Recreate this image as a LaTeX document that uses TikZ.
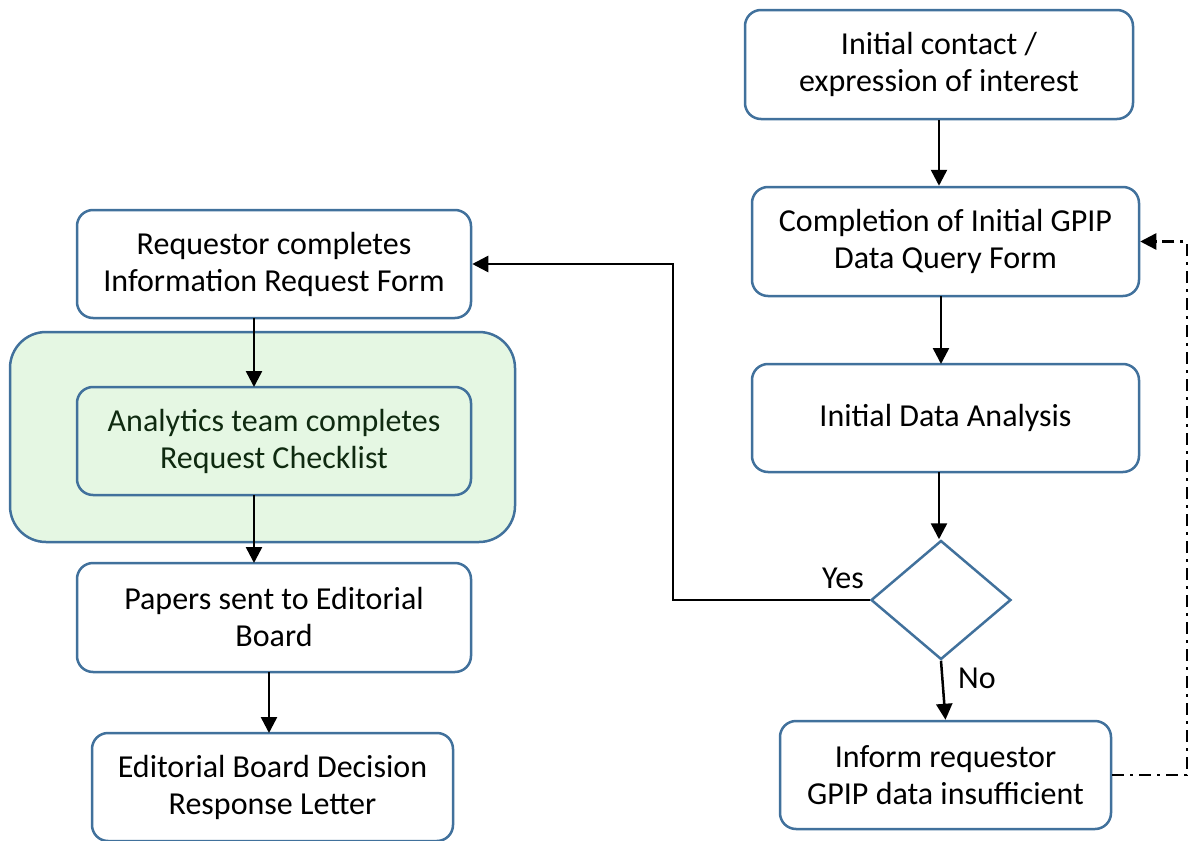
\documentclass[tikz,border=0pt]{standalone}
\usepackage{fontspec}
\setmainfont{Carlito}
\usetikzlibrary{shapes.geometric,arrows.meta}
\definecolor{bordc}{HTML}{41719C}
\definecolor{grfill}{HTML}{E5F7E3}
\definecolor{grtext}{HTML}{0F2A10}
\begin{document}
\begin{tikzpicture}[x=0.5pt,y=-0.5pt,
  box/.style={draw=bordc,line width=1.25pt,rounded corners=8pt,fill=white,align=center,
    font=\fontsize{16}{18.5}\selectfont,inner sep=0pt},
  dec/.style={draw=bordc,line width=1.25pt,diamond,aspect=1.18,minimum width=70pt,minimum height=59.5pt,inner sep=0pt},
  arr/.style={line width=1.25pt,-{Triangle[length=8pt,width=8pt]}},
  lbl/.style={font=\fontsize{16}{18.5}\selectfont,inner sep=0pt}]
\useasboundingbox (0,0) rectangle (1191,841);
% group
\node[draw=bordc,line width=1.25pt,fill=grfill,rounded corners=18pt,minimum width=252.5pt,minimum height=105pt] (grp) at (262.5,437) {};
% right column
\node[box,minimum width=194pt,minimum height=54.5pt] (a) at (939,64.5) {Initial contact /\\expression of interest};
\node[box,minimum width=193.5pt,minimum height=54.5pt] (b) at (945.5,241.5) {Completion of Initial GPIP\\Data Query Form};
\node[box,minimum width=193.5pt,minimum height=54pt] (c) at (945.5,418) {Initial Data Analysis};
\node[dec] (d) at (941,600) {};
\node[box,minimum width=165.5pt,minimum height=54pt] (e) at (945.5,775) {Inform requestor\\GPIP data insufficient};
% left column
\node[box,minimum width=197pt,minimum height=54pt] (f) at (274,264) {Requestor completes\\Information Request Form};
\node[box,fill=grfill,text=grtext,minimum width=197pt,minimum height=54pt] (g) at (274,441) {Analytics team completes\\Request Checklist};
\node[box,minimum width=197pt,minimum height=54.5pt] (h) at (274,617.5) {Papers sent to Editorial\\Board};
\node[box,minimum width=180.5pt,minimum height=54pt] (k) at (272.5,787) {Editorial Board Decision\\Response Letter};
% helper coordinates
\coordinate (y1) at (673,600);
\coordinate (y2) at (673,264);
\coordinate (n1) at (1187,775);
\coordinate (n2) at (1187,241.5);
% connectors
\draw[arr] (a.south) -- (b.north -| a.south);
\draw[arr] (941,296) -- (941,364);
\draw[arr] (939,472) -- (d.north -| 939,0);
\draw[arr] (d.south) -- (e.north);
\draw[arr] (d.west) -- (y1) -- (y2) -- (f.east);
\draw[arr,dash pattern=on 6pt off 3pt on 1.5pt off 3pt] (e.east) -- (n1) -- (n2) -- (b.east);
\draw[arr] (254,318) -- (254,387);
\draw[arr] (254,495) -- (254,563);
\draw[arr] (269,672) -- (269,733);
% labels
\node[lbl] (yes) at (843,578) {Yes};
\node[lbl] (no) at (977,678) {No};
\end{tikzpicture}
\end{document}
